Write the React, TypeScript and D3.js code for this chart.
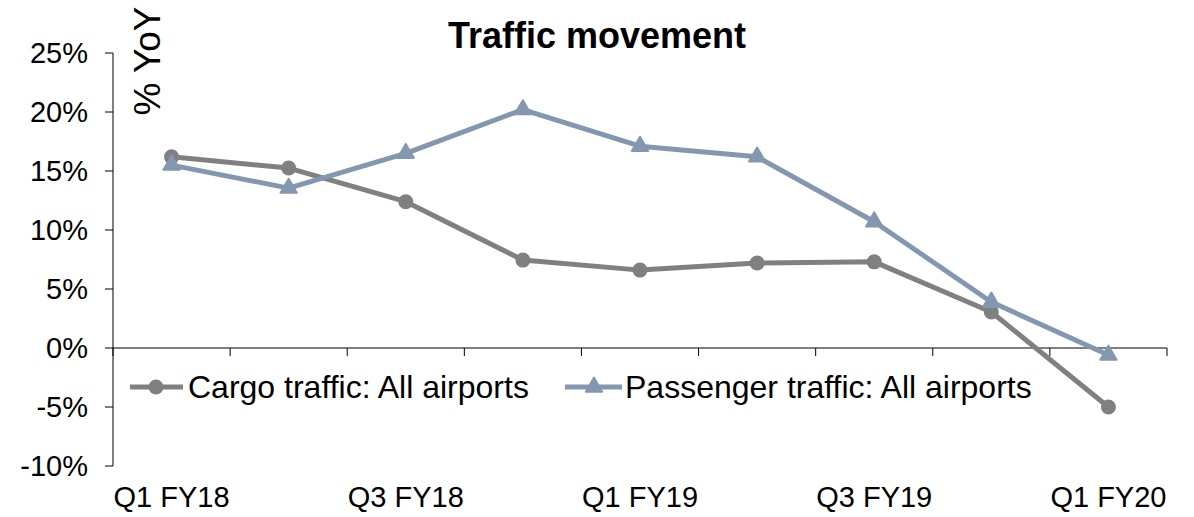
import React from "react";
import * as d3 from "d3";

const categories = ["Q1 FY18", "Q2 FY18", "Q3 FY18", "Q4 FY18", "Q1 FY19", "Q2 FY19", "Q3 FY19", "Q4 FY19", "Q1 FY20"];
const tickLabels = ["Q1 FY18", "", "Q3 FY18", "", "Q1 FY19", "", "Q3 FY19", "", "Q1 FY20"];
const cargo = [16.2, 15.25, 12.4, 7.45, 6.6, 7.2, 7.3, 3.05, -5.0];
const passenger = [15.5, 13.55, 16.5, 20.2, 17.1, 16.2, 10.7, 3.9, -0.6];
const yTicks = [-10, -5, 0, 5, 10, 15, 20, 25];
const seriesNames = ["Cargo traffic: All airports", "Passenger traffic: All airports"];

const W = 1194;
const H = 517;
const FONT = "'Liberation Sans', Arial, sans-serif";
const CARGO_COLOR = "#808080";
const PASS_COLOR = "#8497b0";

export default function App() {
  const left = 113;
  const right = 1167;
  const x = d3.scaleBand<string>().domain(categories).range([left, right]).padding(0);
  const y = d3.scaleLinear().domain([-10, 25]).range([466, 53]);
  const cx = (c: string) => (x(c) as number) + x.bandwidth() / 2;

  const line = d3
    .line<number>()
    .x((_, i) => cx(categories[i]))
    .y((d) => y(d));

  const tri = d3.symbol().type(d3.symbolTriangle).size(115)();
  const boundaries = categories.map((c) => x(c) as number).concat([right]);

  return (
    <svg width={W} height={H} style={{ position: "absolute", left: 0, top: 0, background: "#fff" }} fontFamily={FONT}>
      {/* title */}
      <text x={597} y={48} textAnchor="middle" fontSize={36} fontWeight="bold" fill="#000">
        Traffic movement
      </text>
      {/* y axis label */}
      <text transform={`translate(160,61) rotate(-90)`} textAnchor="middle" fontSize={37} fill="#000">
        % YoY
      </text>
      {/* y axis */}
      <line x1={left} x2={left} y1={y(25)} y2={y(-10)} stroke="#000" strokeWidth={1} />
      {yTicks.map((t) => (
        <g key={t}>
          <line x1={left - 8} x2={left} y1={y(t)} y2={y(t)} stroke="#000" strokeWidth={1} />
          <text x={88} y={y(t)} dy="0.35em" textAnchor="end" fontSize={29} fill="#000">
            {`${t}%`}
          </text>
        </g>
      ))}
      {/* x axis at 0 */}
      <line x1={left} x2={right} y1={y(0)} y2={y(0)} stroke="#000" strokeWidth={1} />
      {boundaries.map((b, i) => (
        <line key={i} x1={b} x2={b} y1={y(0)} y2={y(0) + 8} stroke="#000" strokeWidth={1} />
      ))}
      {categories.map((c, i) =>
        tickLabels[i] ? (
          <text key={c} x={cx(c)} y={507} textAnchor="middle" fontSize={29} fill="#000">
            {tickLabels[i]}
          </text>
        ) : null
      )}
      {/* cargo series */}
      <path d={line(cargo) || ""} fill="none" stroke={CARGO_COLOR} strokeWidth={5} strokeLinejoin="round" />
      {cargo.map((v, i) => (
        <circle key={i} cx={cx(categories[i])} cy={y(v)} r={7.5} fill={CARGO_COLOR} />
      ))}
      {/* passenger series */}
      <path d={line(passenger) || ""} fill="none" stroke={PASS_COLOR} strokeWidth={5} strokeLinejoin="round" />
      {passenger.map((v, i) => (
        <path key={i} d={tri || ""} transform={`translate(${cx(categories[i])},${y(v)})`} fill={PASS_COLOR} stroke={PASS_COLOR} strokeWidth={2} strokeLinejoin="round" />
      ))}
      {/* legend */}
      <g>
        <line x1={130} x2={183} y1={387} y2={387} stroke={CARGO_COLOR} strokeWidth={5} />
        <circle cx={156} cy={387} r={7.5} fill={CARGO_COLOR} />
        <text x={188} y={387} dy="0.35em" fontSize={32} fill="#000">
          {seriesNames[0]}
        </text>
        <line x1={565} x2={622} y1={387} y2={387} stroke={PASS_COLOR} strokeWidth={5} />
        <path d={tri || ""} transform="translate(594,387)" fill={PASS_COLOR} stroke={PASS_COLOR} strokeWidth={2} strokeLinejoin="round" />
        <text x={625} y={387} dy="0.35em" fontSize={32} fill="#000">
          {seriesNames[1]}
        </text>
      </g>
    </svg>
  );
}
